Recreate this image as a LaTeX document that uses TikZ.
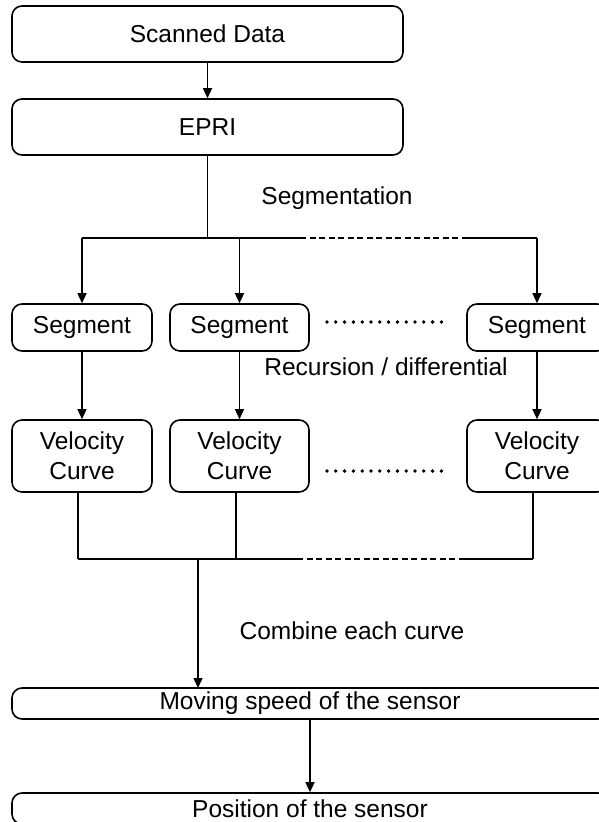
\documentclass[tikz,border=0pt]{standalone}
\usepackage{fontspec}
\setmainfont{Liberation Sans}
\usetikzlibrary{arrows.meta}
\begin{document}
\begin{tikzpicture}[x=1pt,y=-1pt,
  every node/.style={font=\fontsize{24.5}{30}\selectfont},
  box/.style={draw, line width=1.6pt, rounded corners=10pt, inner sep=0pt, align=center},
  wire/.style={line width=1.4pt},
  arr/.style={wire, -{Triangle[length=10pt,width=9pt]}},
  dash line/.style={wire, dash pattern=on 6pt off 3.5pt},
  dotline/.style={line width=3.8pt, line cap=round, dash pattern=on 0pt off 8.8pt},
  lbl/.style={inner sep=0pt}]
\useasboundingbox (0,0) rectangle (599,822);
\clip (0,0) rectangle (599,822);
\fill[white] (0,0) rectangle (599,822);

\node[box, minimum width=391pt, minimum height=56pt] (sd) at (207.5,34) {Scanned Data};
\node[box, minimum width=391pt, minimum height=56pt] (epri) at (207.5,127) {EPRI};

\node[box, minimum width=140pt, minimum height=47pt] (seg1) at (82,327.5) {Segment};
\node[box, minimum width=139pt, minimum height=47pt] (seg2) at (239.5,327.5) {Segment};
\node[box, minimum width=140pt, minimum height=47pt] (seg3) at (537,327.5) {Segment};

\node[box, minimum width=140pt, minimum height=72pt] (vel1) at (82,456) {Velocity\\Curve};
\node[box, minimum width=139pt, minimum height=72pt] (vel2) at (239.5,456) {Velocity\\Curve};
\node[box, minimum width=140pt, minimum height=72pt] (vel3) at (537,456) {Velocity\\Curve};

\node[box, minimum width=596pt, minimum height=31pt] (mov) at (310,703.5) {Moving speed of the sensor};
\node[box, minimum width=596pt, minimum height=31pt] (pos) at (310,808.5) {Position of the sensor};

\node[lbl] (lseg) at (337,198) {Segmentation};
\node[lbl] (lrec) at (386,367) {Recursion / differential};
\node[lbl] (lcom) at (352,631) {Combine each curve};

% top
\draw[arr] (sd) -- (epri);
\coordinate (b0) at (207.5,238);
\coordinate (b1) at (82,238);
\coordinate (b2) at (239.5,238);
\coordinate (b3) at (537,238);
\coordinate (bd1) at (300,238);
\coordinate (bd2) at (467,238);
\draw[wire] (epri.south) -- (b0);
\draw[wire] (b1) -- (bd1);
\draw[dash line] (bd1) -- (bd2);
\draw[wire] (bd2) -- (b3);
\draw[arr] (b1) -- (seg1.north);
\draw[arr] (b2) -- (seg2.north);
\draw[arr] (b3) -- (seg3.north);

% dots
\coordinate (d1) at (327,322);
\coordinate (d2) at (443,322);
\draw[dotline] (d1) -- (d2);
\coordinate (d3) at (327,471);
\coordinate (d4) at (443,471);
\draw[dotline] (d3) -- (d4);

\draw[arr] (seg1) -- (vel1);
\draw[arr] (seg2) -- (vel2);
\draw[arr] (seg3) -- (vel3);

% bottom bus
\coordinate (c1) at (78,559);
\coordinate (c2) at (236,559);
\coordinate (c3) at (533,559);
\coordinate (cd1) at (297,559);
\coordinate (cd2) at (463,559);
\coordinate (c0) at (198,559);
\draw[wire] ([xshift=-4pt]vel1.south) -- (c1);
\draw[wire] ([xshift=-3.5pt]vel2.south) -- (c2);
\draw[wire] ([xshift=-4pt]vel3.south) -- (c3);
\draw[wire] (c1) -- (cd1);
\draw[dash line] (cd1) -- (cd2);
\draw[wire] (cd2) -- (c3);
\coordinate (m0) at (198,688);
\draw[arr] (c0) -- (m0);

\draw[arr] (mov) -- (pos);
\end{tikzpicture}
\end{document}
